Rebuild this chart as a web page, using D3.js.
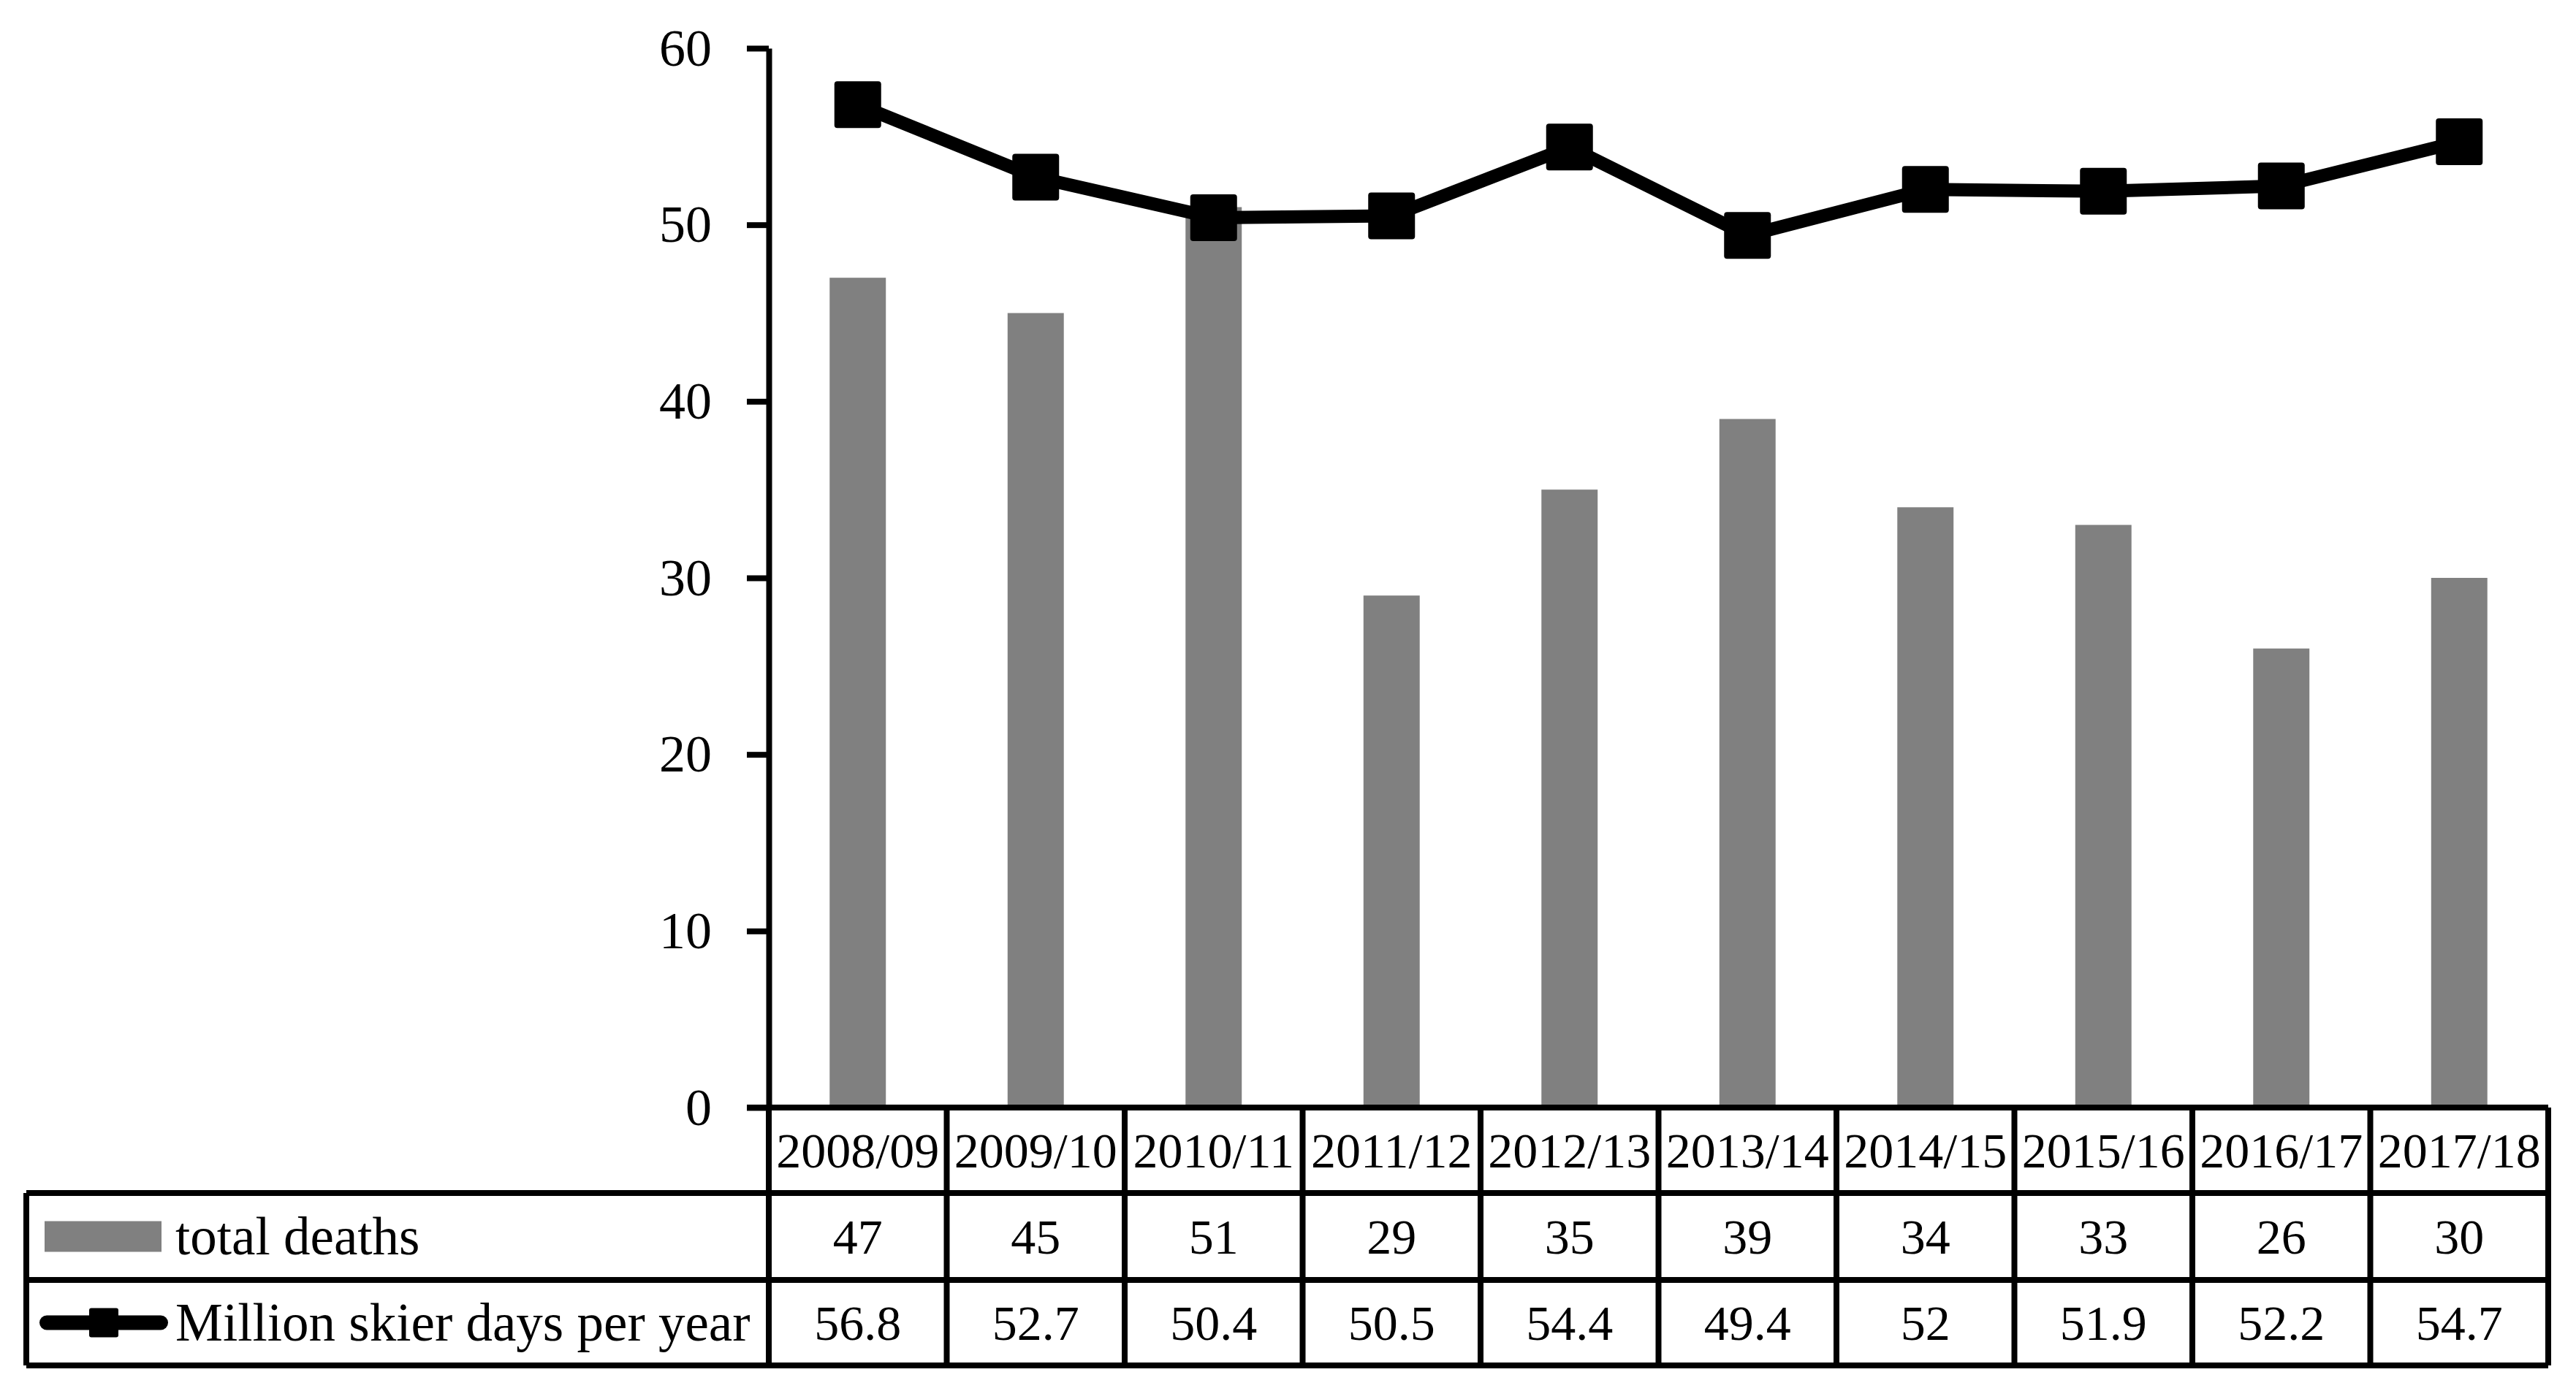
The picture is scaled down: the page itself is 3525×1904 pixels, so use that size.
<!DOCTYPE html>
<html>
<head>
<meta charset="utf-8">
<script src="https://cdn.jsdelivr.net/npm/d3@7"></script>
<style>
  body { margin: 0; background: #fff; }
  svg { display: block; font-family: "Liberation Serif", "Times New Roman", serif; }
</style>
</head>
<body>
<div class="chart"></div>
<script>
const seasons = ['2008/09', '2009/10', '2010/11', '2011/12', '2012/13', '2013/14', '2014/15', '2015/16', '2016/17', '2017/18'];
const totalDeaths = [47, 45, 51, 29, 35, 39, 34, 33, 26, 30];
const skierDays = [56.8, 52.7, 50.4, 50.5, 54.4, 49.4, 52, 51.9, 52.2, 54.7];
const yTicks = [0, 10, 20, 30, 40, 50, 60];
const seriesNames = ['total deaths', 'Million skier days per year'];

const { d3 } = window;
const width = 3525;
const height = 1904;

const plot = { left: 1052, right: 3487, top: 66, bottom: 1516 };
const table = { left: 36, rows: [1516, 1633, 1752, 1869] };
const lineW = 8;

const svg = d3.select('.chart')
  .append('svg')
  .attr('width', width)
  .attr('height', height);

const x = d3.scaleBand()
  .domain(seasons)
  .range([plot.left, plot.right])
  .paddingInner(0)
  .paddingOuter(0);

const y = d3.scaleLinear()
  .domain([0, 60])
  .range([plot.bottom, plot.top]);

const barW = x.bandwidth() * 0.316;
const cx = d => x(d) + x.bandwidth() / 2;

/* bars */
svg.append('g')
  .selectAll('rect')
  .data(seasons)
  .enter().append('rect')
  .attr('x', (d) => cx(d) - barW / 2)
  .attr('y', (d, i) => y(totalDeaths[i]))
  .attr('width', barW)
  .attr('height', (d, i) => y(0) - y(totalDeaths[i]))
  .attr('fill', '#808080');

/* y axis */
const yAxis = d3.axisLeft(y)
  .tickValues(yTicks)
  .tickSize(30)
  .tickSizeOuter(0)
  .tickPadding(48);

const yAxisGroup = svg.append('g')
  .attr('transform', `translate(${plot.left},0)`)
  .call(yAxis);

yAxisGroup.selectAll('path, line')
  .attr('stroke', '#000')
  .attr('stroke-width', lineW);
yAxisGroup.selectAll('text')
  .attr('font-family', '"Liberation Serif", serif')
  .attr('font-size', 72)
  .attr('fill', '#000');

/* line series */
const line = d3.line()
  .x(d => cx(d.s))
  .y(d => y(d.v));

const pts = seasons.map((s, i) => ({ s, v: skierDays[i] }));

svg.append('path')
  .datum(pts)
  .attr('d', line)
  .attr('fill', 'none')
  .attr('stroke', '#000')
  .attr('stroke-width', 18)
  .attr('stroke-linejoin', 'round');

svg.append('g')
  .selectAll('rect')
  .data(pts)
  .enter().append('rect')
  .attr('x', d => cx(d.s) - 32)
  .attr('y', d => y(d.v) - 32)
  .attr('width', 64)
  .attr('height', 64)
  .attr('rx', 4)
  .attr('fill', '#000');

/* data table */
const tbl = svg.append('g').attr('stroke', '#000').attr('stroke-width', lineW);

// horizontal rules
tbl.append('line')
  .attr('x1', plot.left - 30).attr('x2', plot.right)
  .attr('y1', table.rows[0]).attr('y2', table.rows[0]);
table.rows.slice(1).forEach((ry) => {
  tbl.append('line')
    .attr('x1', table.left).attr('x2', plot.right)
    .attr('y1', ry).attr('y2', ry);
});

// vertical rules
const colEdges = seasons.map(s => x(s)).concat([plot.right]);
tbl.selectAll('.vline')
  .data(colEdges)
  .enter().append('line')
  .attr('x1', d => d).attr('x2', d => d)
  .attr('y1', table.rows[0]).attr('y2', table.rows[3]);
tbl.append('line')
  .attr('x1', table.left).attr('x2', table.left)
  .attr('y1', table.rows[1]).attr('y2', table.rows[3]);

const rowMid = i => (table.rows[i] + table.rows[i + 1]) / 2;

const cellText = (vals, row) => {
  svg.append('g')
    .selectAll('text')
    .data(vals)
    .enter().append('text')
    .attr('x', (d, i) => cx(seasons[i]))
    .attr('y', rowMid(row))
    .attr('text-anchor', 'middle')
    .attr('dominant-baseline', 'central')
    .attr('font-size', 68)
    .attr('fill', '#000')
    .text(d => d);
};

cellText(seasons, 0);
cellText(totalDeaths, 1);
cellText(skierDays, 2);

/* legend keys inside the table */
svg.append('rect')
  .attr('x', 61)
  .attr('y', rowMid(1) - 21)
  .attr('width', 160)
  .attr('height', 42)
  .attr('fill', '#808080');

svg.append('line')
  .attr('x1', 64).attr('x2', 220)
  .attr('y1', rowMid(2)).attr('y2', rowMid(2))
  .attr('stroke', '#000')
  .attr('stroke-width', 20)
  .attr('stroke-linecap', 'round');

svg.append('rect')
  .attr('x', 122)
  .attr('y', rowMid(2) - 20)
  .attr('width', 40)
  .attr('height', 40)
  .attr('rx', 3)
  .attr('fill', '#000');

svg.append('g')
  .selectAll('text')
  .data(seriesNames)
  .enter().append('text')
  .attr('x', 240)
  .attr('y', (d, i) => rowMid(i + 1))
  .attr('dominant-baseline', 'central')
  .attr('font-size', 73)
  .attr('fill', '#000')
  .text(d => d);
</script>
</body>
</html>
